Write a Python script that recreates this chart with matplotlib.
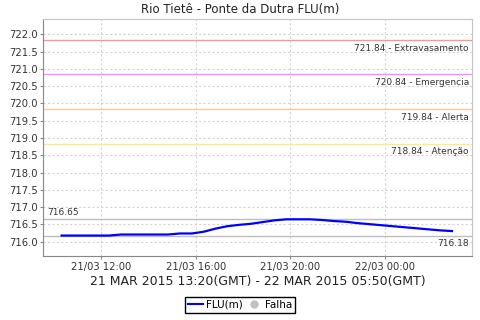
import numpy as np
import pandas as pd
import matplotlib
matplotlib.use("Agg")
import matplotlib.pyplot as plt
import matplotlib.dates as mdates
from matplotlib.lines import Line2D

plt.rcParams['font.family'] = ['DejaVu Sans']

# FLU(m) readings, every 30 min from 21/03 10:20 to 22/03 02:50 (local)
times = pd.date_range("2015-03-21 10:20", "2015-03-22 02:50", freq="30min")
flu = [716.18, 716.18, 716.18, 716.18, 716.18, 716.21, 716.21, 716.21,
       716.21, 716.21, 716.24, 716.24, 716.29, 716.38, 716.45, 716.49,
       716.52, 716.57, 716.62, 716.65, 716.65, 716.65, 716.63, 716.60,
       716.58, 716.54, 716.51, 716.48, 716.45, 716.42, 716.39, 716.36,
       716.33, 716.31]
flu_max = 716.65
flu_min = 716.18

# alert levels
level_vals = [721.84, 720.84, 719.84, 718.84]
level_names = ["Extravasamento", "Emergencia", "Alerta", "Atenção"]
level_colors = ["#f29a9a", "#ff88ff", "#ffc896", "#ffe98a"]

xticks = pd.to_datetime(["2015-03-21 12:00", "2015-03-21 16:00",
                         "2015-03-21 20:00", "2015-03-22 00:00"])
title = "Rio Tietê - Ponte da Dutra FLU(m)"
period = "21 MAR 2015 13:20(GMT) - 22 MAR 2015 05:50(GMT)"

fig = plt.figure(figsize=(4.8, 3.2), dpi=100)
ax = fig.add_axes([0.0902, 0.199, 0.893, 0.7416])

ax.grid(True, color="#d4d4d4", linestyle=(0, (2, 2)), linewidth=0.8)
ax.set_axisbelow(True)

for v, n, c in zip(level_vals, level_names, level_colors):
    ax.axhline(v, color=c, linewidth=1.0)
    ax.annotate("%.2f - %s" % (v, n), xy=(0.993, v),
                xycoords=("axes fraction", "data"),
                xytext=(0, -6), textcoords="offset points",
                ha="right", va="center", fontsize=6.5, color="#333333")

ax.axhline(flu_max, color="#bdbdbd", linewidth=1.0)
ax.axhline(flu_min, color="#bdbdbd", linewidth=1.0)
ax.annotate("%.2f" % flu_max, xy=(0.009, flu_max),
            xycoords=("axes fraction", "data"), xytext=(0, 5.2),
            textcoords="offset points", ha="left", va="center",
            fontsize=6.5, color="#333333")
ax.annotate("%.2f" % flu_min, xy=(0.993, flu_min),
            xycoords=("axes fraction", "data"), xytext=(0, -5.8),
            textcoords="offset points", ha="right", va="center",
            fontsize=6.5, color="#333333")

ax.plot(times, flu, color="#0000ff", linewidth=1.6)

span = times[-1] - times[0]
ax.set_xlim(times[0] - span * 0.047, times[-1] + span * 0.051)
ax.set_ylim(715.58, 722.44)
ax.set_yticks(np.arange(716.0, 722.01, 0.5))
ax.yaxis.set_major_formatter(matplotlib.ticker.FormatStrFormatter("%.1f"))
ax.set_xticks(xticks)
ax.xaxis.set_major_formatter(mdates.DateFormatter("%d/%m %H:%M"))

ax.tick_params(axis="both", labelsize=7.2, colors="#333333", length=2,
               width=0.8, pad=2)
ax.tick_params(axis="both", color="#888888")
for s in ["left", "bottom"]:
    ax.spines[s].set_color("#888888")
for s in ["top", "right"]:
    ax.spines[s].set_color("#c4c4c4")

ax.set_xlabel(period, fontsize=9, color="#222222", labelpad=2.5)
fig.suptitle(title, y=0.969, va="center", fontsize=8.5, color="#222222")

handles = [Line2D([], [], color="#0000ff", linewidth=1.5),
           Line2D([], [], marker="o", linestyle="none", color="#c0c0c0",
                  markersize=5)]
fig.legend(handles, ["FLU(m)", "Falha"], loc="center",
           bbox_to_anchor=(0.5, 0.047), ncol=2, fontsize=7.5,
           frameon=True, fancybox=False, edgecolor="black", framealpha=1,
           borderpad=0.3, handlelength=1.4, handletextpad=0.3,
           columnspacing=0.4, borderaxespad=0)

fig.savefig("out.png", dpi=100)
